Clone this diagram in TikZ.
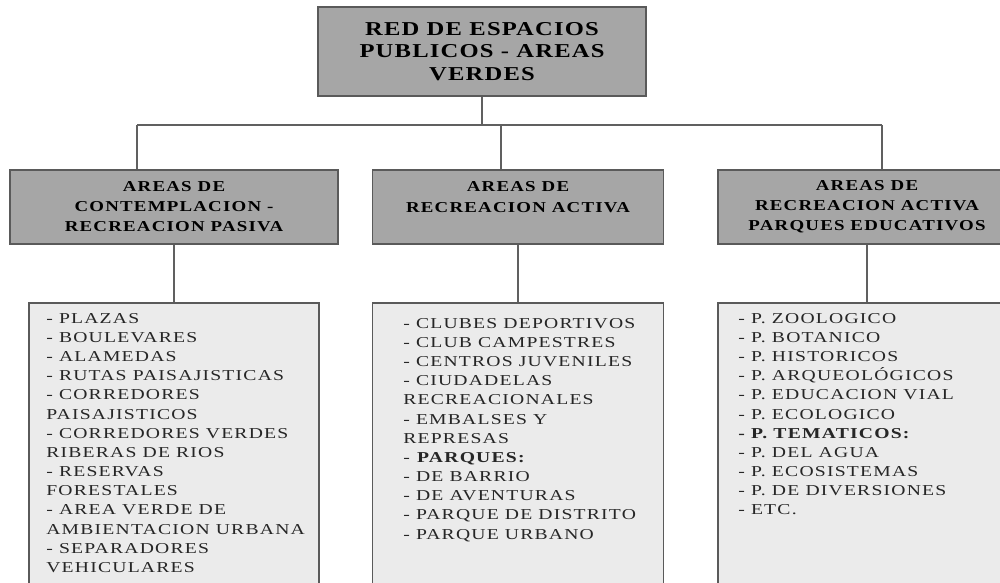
\documentclass[tikz,border=0pt]{standalone}
\usepackage{fontspec}
\setmainfont{Liberation Serif}
\newfontfamily\headfont[FakeStretch=1.25,LetterSpace=6]{Liberation Serif}
\newfontfamily\midfont[FakeStretch=1.25,LetterSpace=8]{Liberation Serif}
\newfontfamily\listfont[FakeStretch=1.3,LetterSpace=8]{Liberation Serif}
\usepackage{tikz}
\usetikzlibrary{positioning}

\definecolor{headgray}{HTML}{A6A6A6}
\definecolor{listgray}{HTML}{EBEBEB}
\definecolor{boxline}{HTML}{5A5A5A}
\definecolor{linkgray}{HTML}{606060}
\definecolor{inkgray}{HTML}{262626}

\tikzset{
	headbox/.style={draw=boxline, fill=headgray, line width=0.9pt, align=center, inner sep=0pt,
		minimum height=1.48cm, font=\midfont\bfseries\fontsize{8.6}{11.4}\selectfont},
	listbox/.style={draw=boxline, fill=listgray, line width=0.9pt, inner sep=0pt, minimum height=5.94cm},
	listtext/.style={anchor=north west, align=left, inner sep=0pt, text=inkgray,
		font=\listfont\fontsize{8.6}{10.9}\selectfont},
	link/.style={draw=linkgray, line width=1pt}
}

\begin{document}
\begin{tikzpicture}[x=0.02cm, y=-0.02cm]
			\useasboundingbox (0,0) rectangle (1000,582);
			
			% Top box
			\node[headbox, minimum width=6.56cm, minimum height=1.78cm,
				font=\headfont\bfseries\fontsize{11.2}{12.8}\selectfont] (red) at (482,51.5)
				{RED DE ESPACIOS\\PUBLICOS - AREAS\\VERDES};
			
			% Second level
			\node[headbox, minimum width=6.56cm] (pasiva) at (174,207) {AREAS DE\\CONTEMPLACION -\\RECREACION PASIVA};
			\node[headbox, minimum width=5.82cm] (activa) at (518,207) {AREAS DE\\RECREACION ACTIVA\\\mbox{}};
			\node[headbox, minimum width=5.96cm] (educ) at (867,207) {AREAS DE\\RECREACION ACTIVA\\PARQUES EDUCATIVOS};
			
			% List boxes
			\node[listbox, minimum width=5.8cm] (lpasiva) at (174,451.5) {};
			\node[listbox, minimum width=5.82cm] (lactiva) at (518,451.5) {};
			\node[listbox, minimum width=5.96cm] (leduc) at (867,451.5) {};
			
			\node[listtext] (tpasiva) at (46,313) {- PLAZAS\\- BOULEVARES\\- ALAMEDAS\\- RUTAS PAISAJISTICAS\\- CORREDORES\\PAISAJISTICOS\\- CORREDORES VERDES\\RIBERAS DE RIOS\\- RESERVAS\\FORESTALES\\- AREA VERDE DE\\AMBIENTACION URBANA\\- SEPARADORES\\VEHICULARES};
			\node[listtext] (tactiva) at (403,318) {- CLUBES DEPORTIVOS\\- CLUB CAMPESTRES\\- CENTROS JUVENILES\\- CIUDADELAS\\RECREACIONALES\\- EMBALSES Y\\REPRESAS\\- \textbf{PARQUES:}\\- DE BARRIO\\- DE AVENTURAS\\- PARQUE DE DISTRITO\\- PARQUE URBANO};
			\node[listtext] (teduc) at (738,313) {- P. ZOOLOGICO\\- P. BOTANICO\\- P. HISTORICOS\\- P. ARQUEOLÓGICOS\\- P. EDUCACION VIAL\\- P. ECOLOGICO\\\textbf{- P. TEMATICOS:}\\- P. DEL AGUA\\- P. ECOSISTEMAS\\- P. DE DIVERSIONES\\- ETC.};
			
			% Connectors
			\coordinate (bus) at (482,125);
			\coordinate (jpasiva) at (137,125);
			\coordinate (jactiva) at (501,125);
			\coordinate (jeduc) at (882,125);
			\draw[link] (red.south) -- (bus);
			\draw[link] (jpasiva) -- (jeduc);
			\foreach \n in {pasiva, activa, educ} {
				\draw[link] (j\n) -- (j\n |- \n.north);
				\draw[link] (\n.south) -- (l\n.north);
			}
		\end{tikzpicture}
\end{document}
